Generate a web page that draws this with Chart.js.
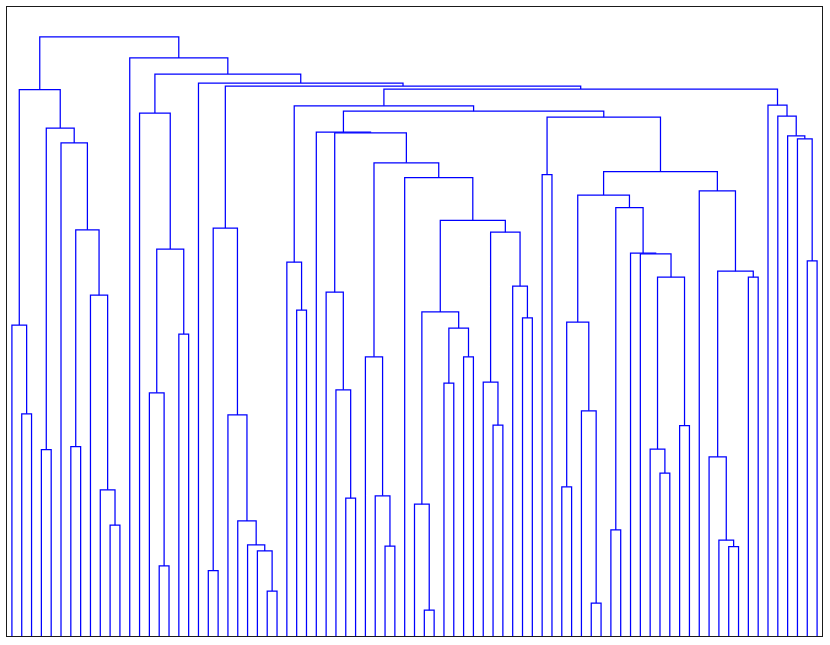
<!DOCTYPE html>
<html lang="en">
<head>
  <meta charset="UTF-8"/>
  <title>Dendrogram</title>
  <script src="https://cdn.jsdelivr.net/npm/chart.js"></script>
  <style>
    body { margin: 0; background: #fff; }
  </style>
</head>
<body>
  <canvas id="tree" width="830" height="645"></canvas>
  <script>
    // 83 leaves, numbered 0..82 in display order; merge k gets id 83 + k
    const leafCount = 83;
    const leftChild = [
      1, 0, 3, 6, 10, 9, 8, 86, 5, 85, 84,
      15, 14, 17, 95, 13,
      20, 26, 25, 24, 23, 22, 99,
      29, 28,
      34, 33, 32, 38, 37, 36, 42, 41, 44, 46, 116, 115, 49, 48, 52, 51, 121, 119, 40, 113, 110, 31,
      54, 56, 59, 58, 131, 61, 66, 65, 68, 137, 64, 63, 135, 134, 73, 72, 71, 75, 146, 70, 143, 130,
      129, 107,
      81, 80, 79, 78, 77,
      153, 105, 19, 98, 12, 93
    ];
    const rightChild = [
      2, 83, 4, 7, 11, 87, 88, 89, 90, 91, 92,
      16, 94, 18, 96, 97,
      21, 27, 100, 101, 102, 103, 104,
      30, 106,
      35, 108, 109, 39, 111, 112, 43, 114, 45, 47, 117, 118, 50, 120, 53, 122, 123, 124, 125, 126, 127, 128,
      55, 57, 60, 132, 133, 62, 67, 136, 69, 138, 139, 140, 141, 142, 74, 144, 145, 76, 147, 148, 149, 150,
      151, 152,
      82, 154, 155, 156, 157,
      158, 159, 160, 161, 162, 163
    ];
    const mergeHeight = [
      0.371, 0.519, 0.311, 0.316, 0.185, 0.244, 0.569, 0.678, 0.823, 0.848, 0.912,
      0.117, 0.406, 0.504, 0.646, 0.873,
      0.109, 0.075, 0.142, 0.152, 0.192, 0.369, 0.681,
      0.544, 0.624,
      0.230, 0.411, 0.574, 0.150, 0.234, 0.466, 0.043, 0.220, 0.422, 0.466, 0.514, 0.541, 0.352, 0.424, 0.531, 0.584, 0.674, 0.694, 0.765, 0.790, 0.840, 0.841,
      0.770, 0.249, 0.055, 0.376, 0.524, 0.177, 0.272, 0.312, 0.351, 0.599, 0.638, 0.639, 0.715, 0.736, 0.149, 0.160, 0.299, 0.599, 0.609, 0.743, 0.775, 0.866,
      0.876, 0.885,
      0.626, 0.830, 0.835, 0.868, 0.886,
      0.913, 0.918, 0.923, 0.938, 0.965, 1.000
    ];

    function posOf(id) {
      if (id < leafCount) return id + 0.5;
      const k = id - leafCount;
      return (posOf(leftChild[k]) + posOf(rightChild[k])) / 2;
    }
    function heightOf(id) {
      return id < leafCount ? 0 : mergeHeight[id - leafCount];
    }

    // one ⊓ shaped link per merge
    const datasets = mergeHeight.map((h, k) => {
      const a = leftChild[k], b = rightChild[k];
      return {
        data: [
          { x: posOf(a), y: heightOf(a) },
          { x: posOf(a), y: h },
          { x: posOf(b), y: h },
          { x: posOf(b), y: heightOf(b) }
        ],
        borderColor: "#0000ff",
        borderWidth: 1.25,
        pointRadius: 0,
        fill: false,
        tension: 0
      };
    });

    const frame = {
      id: "frame",
      afterDraw(chart) {
        const { ctx, chartArea: a } = chart;
        ctx.save();
        ctx.strokeStyle = "#1a1a1a";
        ctx.lineWidth = 1;
        ctx.strokeRect(Math.round(a.left) - 0.5, Math.round(a.top) - 0.5,
          Math.round(a.right - a.left) + 1, Math.round(a.bottom - a.top) + 1);
        ctx.restore();
      }
    };

    new Chart(document.getElementById("tree"), {
      type: "line",
      data: { datasets },
      options: {
        responsive: false,
        animation: false,
        layout: { padding: { left: 7, top: 7, right: 8, bottom: 9 } },
        plugins: { legend: { display: false }, tooltip: { enabled: false } },
        scales: {
          x: { type: "linear", min: 0, max: leafCount, display: false },
          y: { type: "linear", min: 0, max: 1.05, display: false }
        }
      },
      plugins: [frame]
    });
  </script>
</body>
</html>
